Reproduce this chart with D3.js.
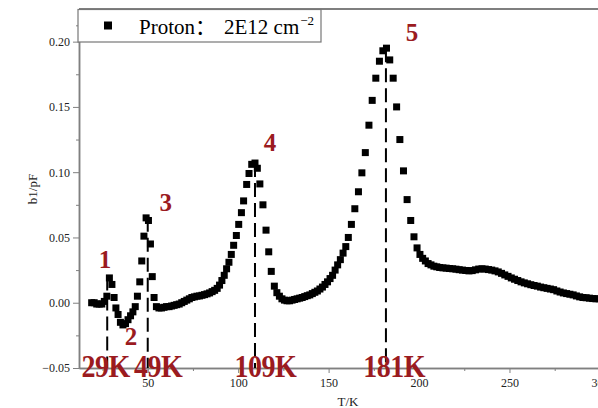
<!DOCTYPE html>
<html><head><meta charset="utf-8">
<script src="https://cdn.jsdelivr.net/npm/d3@7"></script>
<style>body{margin:0;background:#fff}svg{display:block}</style>
</head><body>
<svg id="c" width="598" height="408"></svg>
<script>
const temps = [19.0,20.4,21.8,23.2,24.6,26.0,27.4,28.8,30.2,31.4,32.4,33.6,34.9,36.3,37.7,39.1,40.5,41.8,43.1,44.3,45.6,46.7,47.9,49.1,50.4,51.5,52.5,53.5,54.8,56.2,57.6,59.0,60.4,61.8,63.2,64.6,66.0,67.4,68.8,70.2,71.6,73.0,74.4,75.8,77.2,78.6,80.0,81.4,82.8,84.2,85.6,87.0,88.4,89.7,91.0,92.3,93.6,94.9,96.2,97.5,99.0,100.3,101.8,103.0,104.7,106.0,107.5,109.3,110.6,112.0,113.7,115.4,116.9,118.3,120.0,121.4,122.8,124.2,125.6,127.0,128.4,129.8,131.2,132.6,134.0,135.4,136.8,138.2,139.6,141.0,142.4,143.8,145.2,146.6,148.0,149.4,150.8,152.2,153.6,155.0,156.5,158.0,159.5,160.9,162.6,164.5,166.5,168.4,170.3,172.3,174.1,176.1,178.1,180.0,182.0,183.8,185.7,187.6,189.4,191.4,193.4,195.4,197.2,198.9,200.5,202.0,203.5,205.0,206.6,208.2,209.8,211.4,213.2,215.0,216.8,218.6,220.4,222.2,224.0,225.8,227.6,229.4,231.2,233.0,234.8,236.6,238.4,240.2,242.0,243.8,245.6,247.4,249.2,251.0,252.8,254.6,256.4,258.2,260.0,261.8,263.6,265.4,267.2,269.0,270.8,272.6,274.4,276.2,278.0,279.8,281.6,283.4,285.2,287.0,288.8,290.6,292.4,294.2,296.0,297.8,299.6,301.4,303.2];
const b1 = [0.000,0.000,-0.001,-0.001,-0.001,0.001,0.005,0.019,0.014,0.004,-0.004,-0.009,-0.015,-0.017,-0.016,-0.013,-0.010,-0.007,-0.003,0.005,0.016,0.032,0.051,0.065,0.063,0.045,0.020,0.004,-0.003,-0.004,-0.004,-0.0035,-0.003,-0.003,-0.0025,-0.002,-0.0015,-0.001,0.000,0.001,0.002,0.003,0.004,0.0045,0.005,0.0052,0.0057,0.0062,0.0068,0.0075,0.0085,0.0095,0.011,0.0135,0.017,0.021,0.026,0.031,0.037,0.044,0.0515,0.060,0.069,0.078,0.0906,0.099,0.106,0.107,0.103,0.091,0.075,0.0556,0.039,0.024,0.0127,0.0077,0.005,0.003,0.002,0.0015,0.0015,0.002,0.0025,0.003,0.0035,0.004,0.0047,0.0054,0.006,0.007,0.008,0.009,0.0105,0.012,0.014,0.016,0.0185,0.021,0.025,0.029,0.033,0.038,0.043,0.050,0.060,0.072,0.085,0.0995,0.115,0.136,0.155,0.172,0.185,0.193,0.195,0.186,0.172,0.150,0.125,0.101,0.079,0.063,0.0505,0.042,0.037,0.034,0.032,0.030,0.029,0.028,0.0275,0.027,0.0267,0.0265,0.0262,0.026,0.0257,0.0253,0.025,0.0247,0.0244,0.0246,0.0252,0.0258,0.026,0.0258,0.0254,0.025,0.0244,0.0236,0.0225,0.0213,0.0202,0.019,0.018,0.017,0.016,0.0152,0.0145,0.0138,0.0132,0.0127,0.012,0.0115,0.011,0.0105,0.010,0.009,0.0082,0.0075,0.007,0.0065,0.006,0.0052,0.0045,0.004,0.0038,0.0035,0.0032,0.003,0.003,0.0028,0.0025];
const xTicks = [50,100,150,200,250,300];
const yTicks = [-0.05,0.00,0.05,0.10,0.15,0.20];
const peakLineT = [27.6,50.0,109.3,181.7];
const peakLineTop = [0.020,0.065,0.107,0.195];
const peakTempLabels = ["29K","49K","109K","181K"];
const peakTempLabelStartT = [13.4,42.4,98.0,169.1];
const peakNumbers = ["1","2","3","4","5"];
const peakNumberT = [26.4,40.7,60.0,117.6,196.1];
const peakNumberV = [0.033,-0.026,0.077,0.123,0.207];
const legendLabel = "Proton：";
const legendValue = "2E12 cm";
const legendSup = "−2";

const svg = d3.select("#c");
const x = d3.scaleLinear().domain([12,310]).range([79,618]);
const y = d3.scaleLinear().domain([-0.05,0.225]).range([368,9]);
const serif = "'Liberation Serif','Times New Roman','Noto Sans CJK SC',serif";
const red = "#9b1b1f";

// axes
const xAxis = d3.axisBottom(x).tickValues(xTicks).tickFormat(d3.format("d")).tickSize(5).tickSizeOuter(0);
const xMinor = d3.axisBottom(x).tickValues([25,75,125,175,225,275]).tickFormat("").tickSize(3).tickSizeOuter(0);
const yAxis = d3.axisLeft(y).tickValues(yTicks).tickFormat(d3.format(".2f")).tickSize(6).tickSizeOuter(0);
const yMinor = d3.axisLeft(y).tickValues([-0.025,0.025,0.075,0.125,0.175,0.2125]).tickFormat("").tickSize(3).tickSizeOuter(0);

function style(g){
  g.select(".domain").attr("stroke","#808080").attr("stroke-width",1.5);
  g.selectAll(".tick line").attr("stroke","#808080").attr("stroke-width",1);
  g.selectAll(".tick text").attr("fill","#222").style("font-family",serif).style("font-size","12px");
}
svg.append("g").attr("transform","translate(0,368)").call(xMinor).call(style);
svg.append("g").attr("transform","translate(0,368)").call(xAxis).call(style).selectAll(".tick text").attr("dy","0.95em");
svg.append("g").attr("transform","translate(79,0)").call(yMinor).call(style);
svg.append("g").attr("transform","translate(79,0)").call(yAxis).call(style);

// top frame line
svg.append("line").attr("x1",x(12)).attr("x2",x(310)).attr("y1",y(0.225)).attr("y2",y(0.225))
  .attr("stroke","#555").attr("stroke-width",1.5);

// axis titles
svg.append("text").attr("x",348).attr("y",406).attr("text-anchor","middle")
  .style("font-family",serif).style("font-size","13px").attr("fill","#222").text("T/K");
svg.append("text").attr("transform","translate(37,189) rotate(-90)").attr("text-anchor","middle")
  .style("font-family",serif).style("font-size","13px").attr("fill","#222").text("b1/pF");

// dashed lines
svg.append("g").selectAll("line").data(peakLineT).join("line")
  .attr("x1",d=>x(d)).attr("x2",d=>x(d))
  .attr("y1",(d,i)=>y(peakLineTop[i])).attr("y2",y(-0.05))
  .attr("stroke","#000").attr("stroke-width",2).attr("stroke-dasharray","14,6");

// data points
const pts = temps.map((t,i)=>({t, v:b1[i]}));
const ms = 7;
svg.append("g").selectAll("rect").data(pts).join("rect")
  .attr("x",d=>x(d.t)-ms/2).attr("y",d=>y(d.v)-ms/2).attr("width",ms).attr("height",ms).attr("fill","#000");

// peak numbers
svg.append("g").selectAll("text").data(peakNumbers).join("text")
  .attr("x",(d,i)=>x(peakNumberT[i])).attr("y",(d,i)=>y(peakNumberV[i]))
  .attr("text-anchor","middle").attr("dominant-baseline","central")
  .style("font-family",serif).style("font-weight","bold").style("font-size","25px").attr("fill",red)
  .text(d=>d);

// temperature labels
svg.append("g").selectAll("text").data(peakTempLabels).join("text")
  .attr("transform",(d,i)=>`translate(${x(peakTempLabelStartT[i])},376.5) scale(1,1.16)`)
  .attr("text-anchor","start")
  .style("font-family",serif).style("font-weight","bold").style("font-size","28px")
  .style("letter-spacing","-0.5px").attr("fill",red)
  .text(d=>d);

// legend
const lg = svg.append("g");
lg.append("rect").attr("x",78).attr("y",9.5).attr("width",243).attr("height",32.5)
  .attr("fill","#fff").attr("stroke","#777").attr("stroke-width",1.2);
lg.append("rect").attr("x",108-4).attr("y",25.5-4).attr("width",8).attr("height",8).attr("fill","#000");
const lt = lg.append("text").attr("x",139).attr("y",34)
  .style("font-family",serif).style("font-size","21px").attr("fill","#000");
lt.append("tspan").text(legendLabel);
lt.append("tspan").attr("x",224).text(legendValue);
lt.append("tspan").attr("dy",-9).attr("dx",1).style("font-size","13px").text(legendSup);
</script>
</body></html>
